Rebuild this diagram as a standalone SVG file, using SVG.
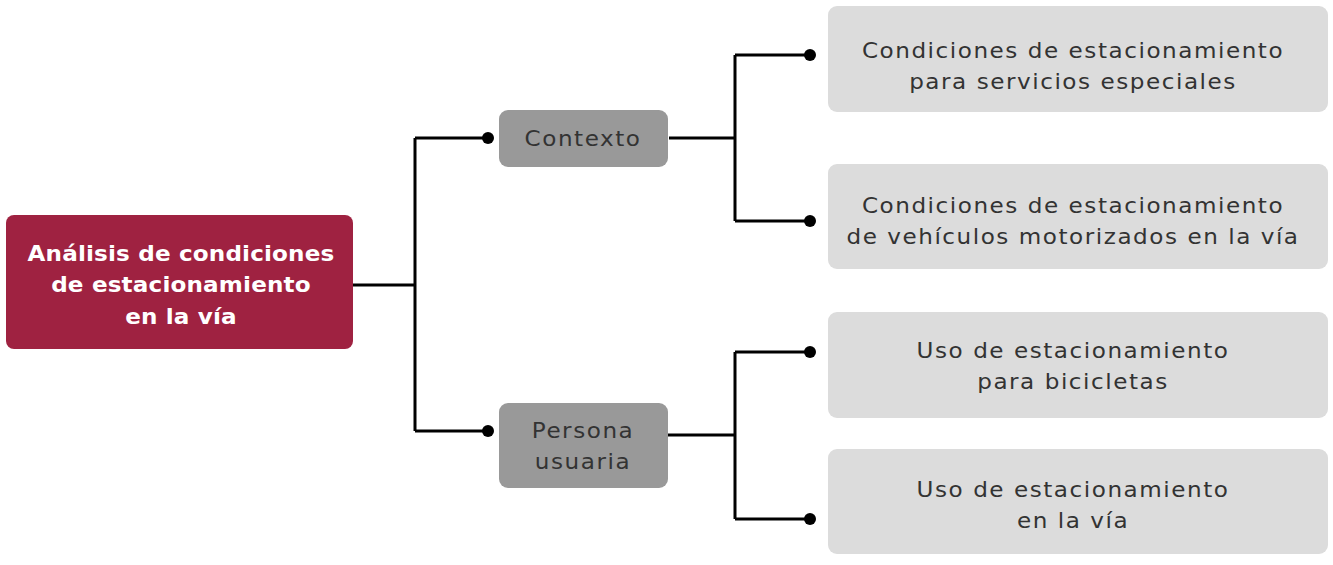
<svg xmlns="http://www.w3.org/2000/svg" width="1333" height="565" viewBox="0 0 1333 565">
<style>
.conn{fill:none;stroke:#000;stroke-width:3}
.dot{fill:#000}
.main{fill:#9F2241}
.mid{fill:#999999}
.leaf{fill:#DCDCDC}
.tm{font-family:"DejaVu Sans","Liberation Sans",sans-serif;font-weight:bold;font-size:21px;fill:#fff;text-anchor:middle;letter-spacing:0.15px}
.tg{font-family:"DejaVu Sans","Liberation Sans",sans-serif;font-size:21px;fill:#333;text-anchor:middle;letter-spacing:1.4px}
</style>
<rect width="1333" height="565" fill="#fff"/>
<g id="connectors">
<path class="conn" d="M353 285H415M415 138V431M415 138H488M415 431H488"/>
<path class="conn" d="M669 138H735M735 55V221M735 55H810M735 221H810"/>
<path class="conn" d="M668 435H735M735 352V519M735 352H810M735 519H810"/>
<circle class="dot" cx="488" cy="138" r="6"/>
<circle class="dot" cx="488" cy="431" r="6"/>
<circle class="dot" cx="810" cy="55" r="6"/>
<circle class="dot" cx="810" cy="221" r="6"/>
<circle class="dot" cx="810" cy="352" r="6"/>
<circle class="dot" cx="810" cy="519" r="6"/>
</g>
<g id="n-main">
<rect class="main" x="6" y="215" width="347" height="134" rx="8"/>
<text class="tm" transform="translate(181 261) scale(1.1 1)">Análisis de condiciones</text>
<text class="tm" transform="translate(181 292) scale(1.1 1)">de estacionamiento</text>
<text class="tm" transform="translate(181 324) scale(1.1 1)">en la vía</text>
</g>
<g id="n-contexto">
<rect class="mid" x="499" y="110" width="169" height="57" rx="9"/>
<text class="tg" transform="translate(583 146) scale(1.1 1)">Contexto</text>
</g>
<g id="n-persona">
<rect class="mid" x="499" y="403" width="169" height="85" rx="9"/>
<text class="tg" transform="translate(583 438) scale(1.1 1)">Persona</text>
<text class="tg" transform="translate(583 469) scale(1.1 1)">usuaria</text>
</g>
<g id="n-servicios">
<rect class="leaf" x="828" y="6" width="500" height="106" rx="9"/>
<text class="tg" transform="translate(1073 58) scale(1.1 1)">Condiciones de estacionamiento</text>
<text class="tg" transform="translate(1073 89) scale(1.1 1)">para servicios especiales</text>
</g>
<g id="n-motorizados">
<rect class="leaf" x="828" y="164" width="500" height="105" rx="9"/>
<text class="tg" transform="translate(1073 213) scale(1.1 1)">Condiciones de estacionamiento</text>
<text class="tg" transform="translate(1073 244) scale(1.1 1)">de vehículos motorizados en la vía</text>
</g>
<g id="n-bicicletas">
<rect class="leaf" x="828" y="312" width="500" height="106" rx="9"/>
<text class="tg" transform="translate(1073 358) scale(1.1 1)">Uso de estacionamiento</text>
<text class="tg" transform="translate(1073 389) scale(1.1 1)">para bicicletas</text>
</g>
<g id="n-via">
<rect class="leaf" x="828" y="449" width="500" height="105" rx="9"/>
<text class="tg" transform="translate(1073 497) scale(1.1 1)">Uso de estacionamiento</text>
<text class="tg" transform="translate(1073 528) scale(1.1 1)">en la vía</text>
</g>
</svg>
